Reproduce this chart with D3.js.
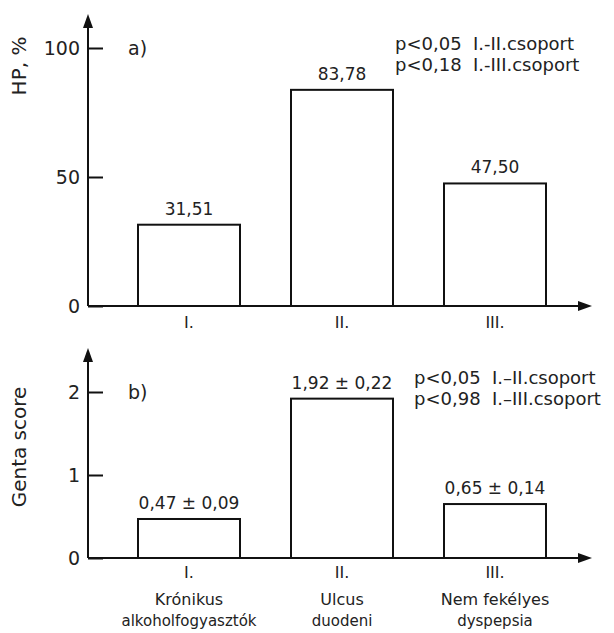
<!DOCTYPE html>
<html>
<head>
<meta charset="utf-8">
<script src="https://cdn.jsdelivr.net/npm/d3@7"></script>
<style>
  body { margin: 0; background: #fff; }
  svg text { font-family: "DejaVu Sans", sans-serif; fill: #222; white-space: pre; }
</style>
</head>
<body>
<div id="chart"></div>
<script>
// data
const groups = ['I.', 'II.', 'III.'];
const groupNames = [['Krónikus', 'alkoholfogyasztók'], ['Ulcus', 'duodeni'], ['Nem fekélyes', 'dyspepsia']];
const hpValues = [31.51, 83.78, 47.50];
const hpLabels = ['31,51', '83,78', '47,50'];
const gentaValues = [0.47, 1.92, 0.65];
const gentaLabels = ['0,47 ± 0,09', '1,92 ± 0,22', '0,65 ± 0,14'];
const hpTicks = [0, 50, 100];
const gentaTicks = [0, 1, 2];
const hpNotes = ['p<0,05  I.-II.csoport', 'p<0,18  I.-III.csoport'];
const gentaNotes = ['p<0,05  I.–II.csoport', 'p<0,98  I.–III.csoport'];

const W = 614, H = 633;
const axisX = 88, axisEnd = 592;

const svg = d3.select('#chart').append('svg')
    .attr('width', W)
    .attr('height', H);

const xScale = d3.scaleBand(groups, [87, 597])
    .paddingInner(1 / 3)
    .paddingOuter(1 / 3);

function panel (values, labels, ticks, domain, yRange, yTop, tag, notes, notePos, yTitle, titleY) {
    const yScale = d3.scaleLinear(domain, yRange);
    const g = svg.append('g');
    const y0 = yScale(0);

    // bars
    g.selectAll('rect')
        .data(values)
        .enter()
        .append('rect')
            .attr('x', (d, i) => xScale(groups[i]))
            .attr('width', xScale.bandwidth())
            .attr('y', d => yScale(d))
            .attr('height', d => y0 - yScale(d))
            .attr('fill', '#fff')
            .attr('stroke', '#111')
            .attr('stroke-width', 2);

    // value labels
    g.selectAll('.val')
        .data(values)
        .enter()
        .append('text')
            .attr('class', 'val')
            .attr('x', (d, i) => xScale(groups[i]) + xScale.bandwidth() / 2)
            .attr('y', d => yScale(d) - 10)
            .attr('text-anchor', 'middle')
            .attr('font-size', 17)
            .text((d, i) => labels[i]);

    // y axis ticks, pointing inward
    const ax = g.append('g')
        .attr('transform', `translate(${axisX},0)`)
        .call(d3.axisLeft(yScale).tickValues(ticks).tickFormat(d3.format('d'))
            .tickSizeInner(0).tickSizeOuter(0).tickPadding(8));
    ax.select('.domain').remove();
    ax.selectAll('.tick line')
        .attr('x1', 0).attr('x2', 15)
        .attr('stroke', '#111').attr('stroke-width', 2);
    ax.selectAll('text').attr('font-size', 19).attr('fill', '#222')
        .style('font-family', '"DejaVu Sans", sans-serif');

    // axis lines with arrows
    g.append('line')
        .attr('x1', axisX).attr('x2', axisX)
        .attr('y1', y0).attr('y2', yTop + 8)
        .attr('stroke', '#111').attr('stroke-width', 2);
    g.append('path')
        .attr('d', `M${axisX},${yTop} L${axisX - 5},${yTop + 14} L${axisX + 5},${yTop + 14} Z`)
        .attr('fill', '#111');
    g.append('line')
        .attr('x1', axisX).attr('x2', axisEnd - 8)
        .attr('y1', y0).attr('y2', y0)
        .attr('stroke', '#111').attr('stroke-width', 2);
    g.append('path')
        .attr('d', `M${axisEnd},${y0} L${axisEnd - 14},${y0 - 5} L${axisEnd - 14},${y0 + 5} Z`)
        .attr('fill', '#111');

    g.append('text')
        .attr('x', 128).attr('y', yScale(domain[1]) + 7)
        .attr('font-size', 19)
        .text(tag);

    g.selectAll('.note')
        .data(notes)
        .enter()
        .append('text')
            .attr('class', 'note')
            .attr('x', notePos[0])
            .attr('y', (d, i) => notePos[1] + i * 21)
            .attr('font-size', 18)
            .text(d => d);

    g.append('text')
        .attr('transform', `translate(26,${titleY}) rotate(-90)`)
        .attr('text-anchor', 'middle')
        .attr('font-size', 20)
        .text(yTitle);

    return y0;
}

const yA = panel(hpValues, hpLabels, hpTicks, [0, 100], [306, 48], 14, 'a)',
    hpNotes, [395, 50], 'HP, %', 66);
const yB = panel(gentaValues, gentaLabels, gentaTicks, [0, 2], [558, 392], 348, 'b)',
    gentaNotes, [414, 384], 'Genta score', 447);

// category labels
svg.selectAll('.catA')
    .data(groups)
    .enter()
    .append('text')
        .attr('class', 'catA')
        .attr('x', d => xScale(d) + xScale.bandwidth() / 2)
        .attr('y', yA + 22)
        .attr('text-anchor', 'middle')
        .attr('font-size', 16)
        .text(d => d);

const catB = svg.selectAll('.catB')
    .data(groups)
    .enter()
    .append('text')
        .attr('class', 'catB')
        .attr('x', d => xScale(d) + xScale.bandwidth() / 2)
        .attr('y', yB + 20)
        .attr('text-anchor', 'middle')
        .attr('font-size', 16);

catB.append('tspan').text(d => d);
catB.append('tspan')
    .attr('x', d => xScale(d) + xScale.bandwidth() / 2)
    .attr('dy', 27)
    .text((d, i) => groupNames[i][0]);
catB.append('tspan')
    .attr('x', d => xScale(d) + xScale.bandwidth() / 2)
    .attr('dy', 21)
    .attr('font-size', 15)
    .text((d, i) => groupNames[i][1]);
</script>
</body>
</html>
